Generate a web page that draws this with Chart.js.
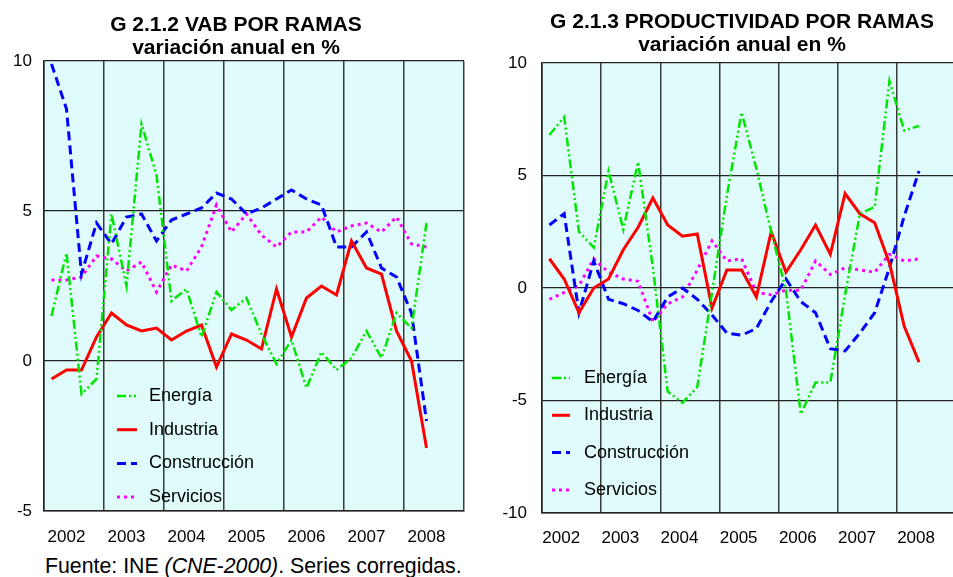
<!DOCTYPE html>
<html>
<head>
<meta charset="utf-8">
<script src="https://cdn.jsdelivr.net/npm/chart.js@4.4.1/dist/chart.umd.min.js"></script>
<style>
  html, body { margin: 0; padding: 0; background: #fff; }
  body { position: relative; width: 953px; height: 577px; overflow: hidden; }
  #vab { position: absolute; left: 0; top: 0; }
  #prod { position: absolute; left: 490px; top: 0; }
  #fuente { position: absolute; left: 45px; top: 554px; font: 21.3px "Liberation Sans", Arial, sans-serif; white-space: nowrap; color: #000; }
</style>
</head>
<body>
<canvas id="vab" width="480" height="550"></canvas>
<canvas id="prod" width="486" height="550"></canvas>
<div id="fuente">Fuente: INE <i>(CNE-2000)</i>. Series corregidas.</div>
<script>
// quarterly data, 2002 T1 .. 2008 T2
const years = ['2002', '2003', '2004', '2005', '2006', '2007', '2008'];
const seriesNames = ['Energía', 'Industria', 'Construcción', 'Servicios'];

// G 2.1.2 VAB por ramas
const vabEnergia      = [1.5, 3.6, -1.1, -0.6, 4.9, 2.5, 7.9, 6.2, 2.0, 2.4, 0.8, 2.3, 1.7, 2.1, 0.9, -0.1, 0.7, -0.9, 0.3, -0.3, 0.1, 1.0, 0.1, 1.6, 1.1, 4.6];
const vabIndustria    = [-0.6, -0.3, -0.3, 0.8, 1.6, 1.2, 1.0, 1.1, 0.7, 1.0, 1.2, -0.2, 0.9, 0.7, 0.4, 2.4, 0.8, 2.1, 2.5, 2.2, 4.0, 3.1, 2.9, 1.0, 0.0, -2.9];
const vabConstruccion = [9.9, 8.4, 2.9, 4.6, 3.9, 4.8, 4.9, 4.0, 4.7, 4.9, 5.1, 5.6, 5.4, 4.9, 5.1, 5.4, 5.7, 5.4, 5.2, 3.8, 3.8, 4.3, 3.1, 2.8, 1.6, -2.0];
const vabServicios    = [2.7, 2.7, 2.8, 3.5, 3.4, 3.0, 3.3, 2.3, 3.2, 3.0, 3.8, 5.2, 4.3, 4.9, 4.2, 3.8, 4.3, 4.3, 4.8, 4.3, 4.5, 4.6, 4.3, 4.8, 3.9, 3.8];

// G 2.1.3 Productividad por ramas
const prodEnergia      = [6.8, 7.6, 2.5, 1.8, 5.2, 2.6, 5.6, 0.9, -4.6, -5.1, -4.4, -0.2, 4.1, 7.8, 5.3, 2.5, -0.1, -5.6, -4.2, -4.2, -0.3, 3.3, 3.6, 9.2, 7.0, 7.2];
const prodIndustria    = [1.3, 0.4, -1.1, 0.0, 0.4, 1.7, 2.7, 4.0, 2.8, 2.3, 2.4, -0.9, 0.8, 0.8, -0.4, 2.5, 0.7, 1.7, 2.8, 1.5, 4.2, 3.3, 2.9, 1.1, -1.7, -3.3];
const prodConstruccion = [2.8, 3.3, -1.1, 1.2, -0.5, -0.7, -1.0, -1.5, -0.4, 0.0, -0.5, -1.2, -2.0, -2.1, -1.8, -0.6, 0.4, -0.6, -1.1, -2.7, -2.8, -2.0, -1.1, 0.9, 3.2, 5.2];
const prodServicios    = [-0.5, -0.2, 0.1, 1.3, 0.7, 0.4, 0.3, -1.5, -0.7, -0.4, 0.8, 2.1, 1.2, 1.3, -0.2, -0.3, -0.1, -0.1, 1.2, 0.6, 0.9, 0.8, 0.7, 1.5, 1.2, 1.3];

const styles = [
  { color: '#00E600', dash: [9, 3, 2, 3, 2, 3], width: 2.5 },
  { color: '#FF0000', dash: [], width: 3 },
  { color: '#0000FF', dash: [9, 5], width: 3 },
  { color: '#FF00FF', dash: [3, 4], width: 3 }
];

const FONT = '"Liberation Sans", Arial, sans-serif';

// plot background
const plotBg = {
  id: 'plotBg',
  beforeDraw(chart) {
    const a = chart.chartArea, ctx = chart.ctx;
    ctx.save();
    ctx.fillStyle = '#E0FBFB';
    ctx.fillRect(a.left, a.top, a.right - a.left, a.bottom - a.top);
    ctx.restore();
  }
};

// two-line bold title
const titleLines = {
  id: 'titleLines',
  afterDraw(chart, args, o) {
    const ctx = chart.ctx;
    ctx.save();
    ctx.font = 'bold 21px ' + FONT;
    ctx.fillStyle = '#000';
    ctx.textAlign = 'center';
    ctx.textBaseline = 'middle';
    o.lines.forEach((t, k) => ctx.fillText(t, o.cx, o.y0 + k * o.dy));
    ctx.restore();
  }
};

// legend inside the plot
const innerLegend = {
  id: 'innerLegend',
  afterDatasetsDraw(chart, args, o) {
    const ctx = chart.ctx, a = chart.chartArea;
    chart.data.datasets.forEach((ds, i) => {
      const y = a.bottom - o.fromBottom + i * o.step;
      ctx.save();
      ctx.strokeStyle = ds.borderColor;
      ctx.lineWidth = ds.borderWidth;
      ctx.setLineDash(ds.borderDash);
      ctx.beginPath();
      ctx.moveTo(a.left + o.x0, y);
      ctx.lineTo(a.left + o.x1, y);
      ctx.stroke();
      ctx.setLineDash([]);
      ctx.fillStyle = '#000';
      ctx.font = '18px ' + FONT;
      ctx.textBaseline = 'middle';
      ctx.fillText(ds.label, a.left + o.tx, y);
      ctx.restore();
    });
  }
};

function makeChart(id, values, yMin, yMax, lay) {
  const nq = years.length * 4;
  const datasets = values.map((vals, s) => ({
    label: seriesNames[s],
    data: vals.map((v, i) => ({ x: i + 0.5, y: v })),
    borderColor: styles[s].color,
    borderDash: styles[s].dash,
    borderWidth: styles[s].width,
    pointRadius: 0,
    fill: false,
    tension: 0
  }));

  return new Chart(document.getElementById(id), {
    type: 'line',
    data: { datasets },
    options: {
      responsive: false,
      animation: false,
      events: [],
      layout: { padding: { top: lay.top, right: lay.right, bottom: 0, left: 0 } },
      plugins: {
        legend: { display: false },
        tooltip: { enabled: false },
        titleLines: lay.title,
        innerLegend: lay.legend
      },
      scales: {
        x: {
          type: 'linear',
          min: 0,
          max: nq,
          // year boundaries carry the grid, year labels sit inside each year
          afterBuildTicks: sc => {
            const t = [];
            for (let k = 0; k <= years.length; k++) {
              t.push({ value: k * 4 });
              if (k < years.length) t.push({ value: k * 4 + lay.labelAt });
            }
            sc.ticks = t;
          },
          afterFit: sc => { sc.height = lay.xH; },
          grid: {
            drawTicks: false,
            color: c => (c.tick && c.tick.value % 4 === 0) ? '#3a3a3a' : 'rgba(0,0,0,0)',
            lineWidth: 1.5
          },
          border: { color: '#222', width: 1.5 },
          ticks: {
            autoSkip: false,
            maxRotation: 0,
            padding: lay.xPad,
            color: '#000',
            font: { family: FONT, size: 17 },
            callback: v => (v % 4 !== 0) ? years[Math.floor(v / 4)] : ''
          }
        },
        y: {
          min: yMin,
          max: yMax,
          afterFit: sc => { sc.width = lay.yW; },
          grid: { drawTicks: false, color: '#222', lineWidth: 1.2 },
          border: { color: '#222', width: 1.5 },
          ticks: {
            stepSize: 5,
            padding: lay.yPad,
            color: '#000',
            font: { family: FONT, size: 17 }
          }
        }
      }
    },
    plugins: [plotBg, titleLines, innerLegend]
  });
}

makeChart('vab', [vabEnergia, vabIndustria, vabConstruccion, vabServicios], -5, 10, {
  top: 61, right: 16, xH: 39, yW: 44, xPad: 16, yPad: 12, labelAt: 1.5,
  title: { lines: ['G 2.1.2 VAB POR RAMAS', 'variación anual en %'], cx: 236, y0: 25, dy: 23 },
  legend: { fromBottom: 115, step: 33.7, x0: 73, x1: 93, tx: 105 }
});

makeChart('prod', [prodEnergia, prodIndustria, prodConstruccion, prodServicios], -10, 10, {
  top: 63, right: 20, xH: 37, yW: 52, xPad: 15, yPad: 15, labelAt: 1.3,
  title: { lines: ['G 2.1.3 PRODUCTIVIDAD POR RAMAS', 'variación anual en %'], cx: 252, y0: 22, dy: 23 },
  legend: { fromBottom: 135, step: 37.3, x0: 10, x1: 28, tx: 42 }
});
</script>
</body>
</html>
